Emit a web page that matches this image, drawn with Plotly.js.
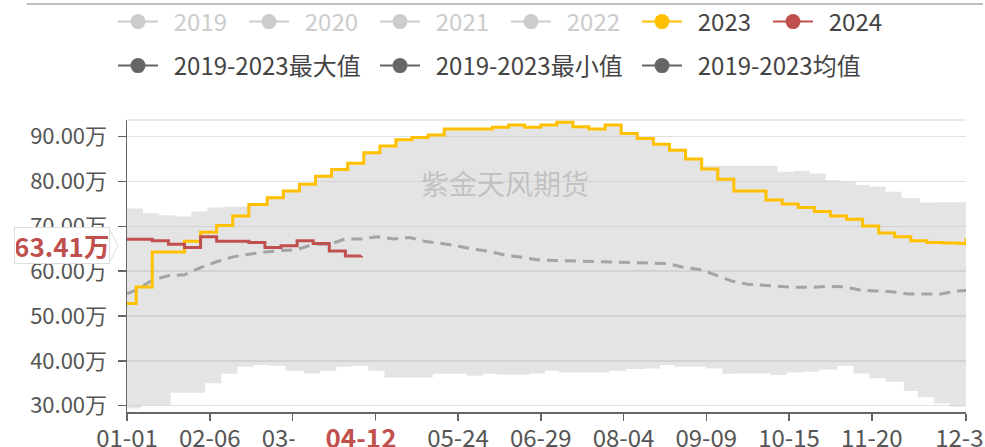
<!DOCTYPE html>
<html><head><meta charset="utf-8">
<script src="https://cdn.plot.ly/plotly-3.0.1.min.js"></script>
<style>html,body{margin:0;padding:0;background:#fff;}#chart{width:985px;height:447px;}</style>
</head><body><div id="chart"></div>
<script>
// ---- categories (leap-year calendar, MM-DD) ----
const monthLengths = [31,29,31,30,31,30,31,31,30,31,30,31];
const days = [];
monthLengths.forEach((n, m) => { for (let d = 1; d <= n; d++) days.push(String(m + 1).padStart(2, '0') + '-' + String(d).padStart(2, '0')); });
const tickDates = ['01-01','02-06','03-13','04-18','05-24','06-29','08-04','09-09','10-15','11-20','12-31'];
const yTicks = [30, 40, 50, 60, 70, 80, 90];
const yTickLabels = ['30.00万','40.00万','50.00万','60.00万','70.00万','80.00万','90.00万'];

// ---- 2024 ----
const dates2024 = ['01-01','01-05','01-12','01-19','01-26','02-02','02-09','02-16','02-23','03-01','03-08','03-15','03-22','03-29','04-05','04-12'];
const values2024 = [67.1,67.1,66.8,66.0,65.3,67.7,66.7,66.7,66.4,65.3,65.7,66.8,66.2,64.5,63.4,63.41];

// ---- 2023 ----
const dates2023 = ['01-01','01-05','01-12','01-19','01-26','02-02','02-09','02-16','02-23','03-02','03-09','03-16','03-23','03-30','04-06','04-13','04-20','04-27','05-04','05-11','05-18','05-25','06-01','06-08','06-15','06-22','06-29','07-06','07-13','07-20','07-27','08-03','08-10','08-17','08-24','08-31','09-07','09-14','09-21','09-28','10-05','10-12','10-19','10-26','11-02','11-09','11-16','11-23','11-30','12-07','12-14','12-21','12-28','12-31'];
const values2023 = [52.8,56.5,64.3,64.3,66.7,68.7,70.2,72.3,74.9,76.4,77.9,79.4,81.2,82.7,84.1,86.4,87.9,89.3,89.8,90.4,91.7,91.7,91.7,92.1,92.6,92.1,92.6,93.2,92.2,91.7,92.6,90.7,89.6,88.3,87.0,85.0,82.8,80.5,77.9,77.9,75.9,75.0,74.2,73.3,72.3,71.6,70.1,68.5,67.7,66.8,66.4,66.3,66.2,67.3];

// ---- 2019-2023 mean ----
const datesMean = ['01-01','01-05','01-12','01-19','01-26','02-02','02-09','02-16','02-23','03-01','03-08','03-15','03-22','03-29','04-05','04-12','04-19','04-26','05-03','05-10','05-17','05-24','05-31','06-07','06-14','06-21','06-28','07-05','07-12','07-19','07-26','08-02','08-09','08-16','08-23','08-30','09-06','09-13','09-20','09-27','10-04','10-11','10-18','10-25','11-01','11-08','11-15','11-22','11-29','12-06','12-13','12-20','12-27','12-31'];
const valuesMean = [55.0,55.8,58.0,59.0,59.2,60.8,62.1,63.2,63.8,64.3,64.6,64.8,66.0,66.0,67.2,67.2,67.7,67.2,67.5,66.6,66.2,65.5,64.9,64.4,63.5,63.1,62.5,62.4,62.3,62.1,62.0,61.9,61.8,61.8,61.7,60.9,60.4,59.2,57.8,57.1,56.9,56.6,56.4,56.4,56.6,56.5,55.8,55.6,55.4,54.9,54.9,54.9,55.6,55.7];

// ---- 2019-2023 max ----
const datesMax = ['01-01','01-08','01-15','01-22','01-29','02-05','02-12','02-23','03-02','03-09','03-16','03-23','03-30','04-06','04-13','04-20','04-27','05-04','05-11','05-18','05-25','06-01','06-08','06-15','06-22','06-29','07-06','07-13','07-20','07-27','08-03','08-10','08-17','08-24','08-31','09-07','10-10','10-17','10-24','10-31','11-06','11-13','11-19','11-26','12-03','12-11','12-18','12-31'];
const valuesMax = [74.0,72.9,72.5,72.2,73.3,74.2,74.4,74.9,76.4,77.9,79.4,81.2,82.7,84.1,86.4,87.9,89.3,89.8,90.4,91.7,91.7,91.7,92.1,92.6,92.1,92.6,93.2,92.2,91.7,92.6,90.7,89.6,88.3,87.0,85.0,83.5,82.2,82.4,81.8,80.3,80.0,79.2,78.9,77.7,76.3,75.3,75.4,75.4];

// ---- 2019-2023 min ----
const datesMin = ['01-01','01-07','01-20','02-04','02-11','02-18','02-25','03-03','03-10','03-18','03-25','04-01','04-08','04-15','04-22','05-13','05-28','06-04','06-10','06-24','07-01','07-07','07-29','08-05','08-13','08-20','08-26','09-09','09-16','09-23','10-07','10-14','10-21','10-28','11-05','11-12','11-19','11-26','12-04','12-10','12-17','12-24','12-31'];
const valuesMin = [29.4,30.1,32.9,35.0,37.1,38.7,39.1,38.9,37.8,37.2,37.8,38.7,38.9,37.8,36.3,37.1,36.7,37.1,36.9,37.2,37.8,37.4,37.8,38.2,38.3,39.1,38.7,38.3,37.1,37.2,36.85,37.4,37.6,38.1,38.85,37.2,36.1,35.35,33.3,31.9,30.5,29.8,29.8];

// ---- legend ----
const legendRow1 = ['2019','2020','2021','2022','2023','2024'];
const legendRow1Colors = ['#cccccc','#cccccc','#cccccc','#cccccc','#FFC000','#C0504D'];
const legendRow1Active = [false,false,false,false,true,true];
const legendRow2 = ['2019-2023最大值','2019-2023最小值','2019-2023均值'];
const legendRow2Colors = ['#666666','#666666','#666666'];

const currentDate = '04-12';
const watermark = '紫金天风期货';

// ---- geometry helpers ----
const W = 985, H = 447;
const M = {l: 127, r: 19, t: 120, b: 35, autoexpand: false};
const plotW = W - M.l - M.r, plotH = H - M.t - M.b;
const px = x => (x - M.l) / plotW;
const py = y => (H - M.b - y) / plotH;
const FONT = '"Noto Sans CJK SC", "Noto Sans", sans-serif';

const traces = [
  {x: datesMin, y: valuesMin, type: 'scatter', mode: 'lines', line: {width: 0, shape: 'hv'}, showlegend: false, hoverinfo: 'skip'},
  {x: datesMax, y: valuesMax, type: 'scatter', mode: 'lines', line: {width: 0, shape: 'hv'}, fill: 'tonexty', fillcolor: 'rgba(190,190,190,0.42)', showlegend: false, hoverinfo: 'skip'},
  {x: datesMean, y: valuesMean, type: 'scatter', mode: 'lines', line: {color: '#a4a4a4', width: 3, dash: '11px,7px'}, showlegend: false},
  {x: dates2023, y: values2023, type: 'scatter', mode: 'lines', line: {color: '#FFC000', width: 3, shape: 'hv'}, showlegend: false},
  {x: dates2024, y: values2024, type: 'scatter', mode: 'lines', line: {color: '#C0504D', width: 3, shape: 'hv'}, showlegend: false}
];
legendRow1.forEach((name, i) => {
  traces.push({x: [null], y: [null], type: 'scatter', mode: 'lines+markers', legend: 'legend',
    name: legendRow1Active[i] ? '\u00a0\u00a0' + name : '\u00a0\u00a0<span style="color:#cccccc">' + name + '</span>',
    line: {color: legendRow1Colors[i], width: 2}, marker: {color: legendRow1Colors[i], size: 15}, hoverinfo: 'skip'});
});
legendRow2.forEach((name, i) => {
  traces.push({x: [null], y: [null], type: 'scatter', mode: 'lines+markers', legend: 'legend2',
    name: '\u00a0\u00a0' + name, line: {color: legendRow2Colors[i], width: 2}, marker: {color: legendRow2Colors[i], size: 15}, hoverinfo: 'skip'});
});

const last2024 = values2024[values2024.length - 1];

const layout = {
  width: W, height: H, margin: M, paper_bgcolor: '#fff', plot_bgcolor: '#fff',
  font: {family: FONT, color: '#555'},
  showlegend: true,
  legend: {orientation: 'h', traceorder: 'normal', x: px(113), xanchor: 'left', y: py(22), yanchor: 'middle', font: {family: FONT, size: 24, color: '#444'},
    itemwidth: 40, entrywidth: 76, bgcolor: 'rgba(0,0,0,0)', itemclick: false, itemdoubleclick: false},
  legend2: {orientation: 'h', traceorder: 'normal', x: px(113), xanchor: 'left', y: py(66), yanchor: 'middle', font: {family: FONT, size: 24, color: '#444'},
    itemwidth: 40, entrywidth: 207, bgcolor: 'rgba(0,0,0,0)', itemclick: false, itemdoubleclick: false},
  xaxis: {type: 'category', categoryorder: 'array', categoryarray: days, range: [0, days.length - 1],
    tickmode: 'array', tickvals: tickDates, ticktext: tickDates, showgrid: false, zeroline: false,
    showline: true, linecolor: '#666', linewidth: 1.5, ticks: 'outside', ticklen: 7, tickwidth: 1.5, tickcolor: '#666',
    ticklabelstandoff: -2, tickfont: {family: FONT, size: 24, color: '#555'}, fixedrange: true},
  yaxis: {range: [28.595, 93.725], tickmode: 'array', tickvals: yTicks, ticktext: yTickLabels,
    showgrid: true, gridcolor: '#e2e2e2', gridwidth: 1.5, zeroline: false,
    showline: true, linecolor: '#666', linewidth: 1.5, ticks: 'outside', ticklen: 8, tickwidth: 1.5, tickcolor: '#666',
    ticklabelstandoff: 6, tickfont: {family: FONT, size: 22, color: '#555'}, fixedrange: true},
  shapes: [
    {type: 'line', xref: 'paper', yref: 'paper', x0: 0, x1: 1, y0: 1, y1: 1, line: {color: '#e2e2e2', width: 1.5}, layer: 'below'},
    {type: 'line', xref: 'paper', yref: 'paper', x0: px(27), x1: px(983), y0: py(4), y1: py(4), line: {color: '#aaaaaa', width: 1.5}},
    {type: 'path', xref: 'paper', yref: 'paper', path: `M${px(109)},${py(228)} L${px(118)},${py(245.5)} L${px(109)},${py(263)} Z`,
      fillcolor: '#ffffff', line: {color: '#dddddd', width: 1}}
  ],
  annotations: [
    {text: watermark, xref: 'paper', yref: 'paper', x: px(505), xanchor: 'center', y: py(183), yanchor: 'middle', showarrow: false,
      font: {family: FONT, size: 28, color: 'rgba(130,130,130,0.35)'}},
    {text: '<b>' + currentDate + '</b>', xref: 'x', yref: 'paper', x: currentDate, y: py(436), yanchor: 'middle', showarrow: false,
      width: 130, height: 28, bgcolor: '#ffffff', font: {family: FONT, size: 26, color: '#C0504D'}},
    {text: '<b>' + last2024.toFixed(2) + '万</b>', xref: 'paper', yref: 'paper', x: px(110), xanchor: 'right', y: py(245.5), yanchor: 'middle',
      showarrow: false, width: 92, height: 33, borderpad: 1, bgcolor: '#ffffff', bordercolor: '#dddddd', borderwidth: 1,
      font: {family: FONT, size: 26, color: '#C0504D'}}
  ]
};

Plotly.newPlot('chart', traces, layout, {displayModeBar: false, staticPlot: true});
</script></body></html>
